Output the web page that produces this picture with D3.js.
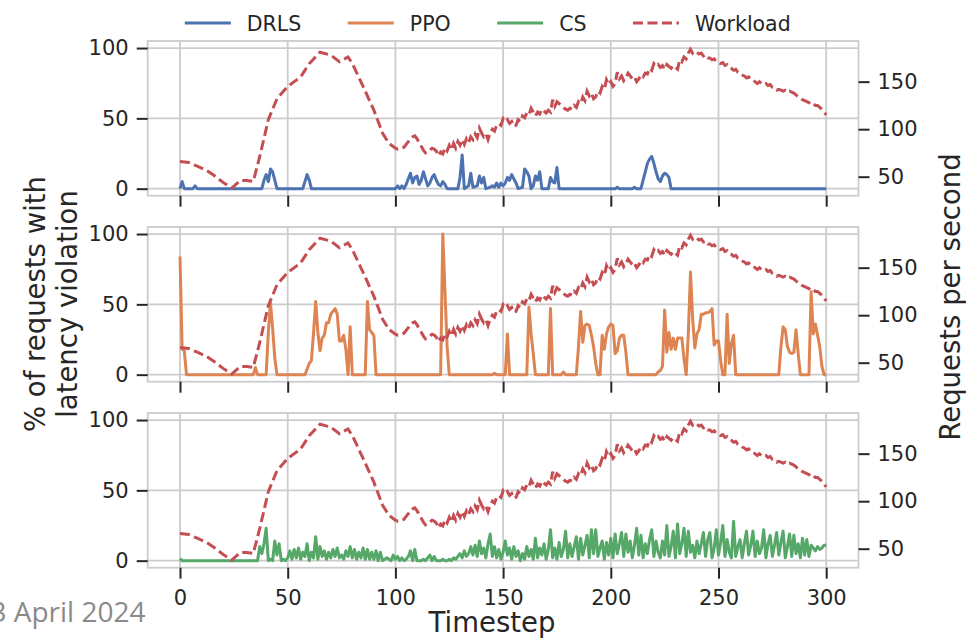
<!DOCTYPE html>
<html>
<head>
<meta charset="utf-8">
<script src="https://cdn.jsdelivr.net/npm/d3@7"></script>
<style>
body { margin: 0; background: #fff; }
text { font-family: "DejaVu Sans", sans-serif; fill: #262626; }
</style>
</head>
<body>
<div id="myGraph"></div>
<script>
// tick values
var timeTicks = [0, 50, 100, 150, 200, 250, 300];
var pctTicks = [0, 50, 100];
var rpsTicks = [50, 100, 150];
var legendNames = ["DRLS", "PPO", "CS", "Workload"];

// workload (requests per second) : breakpoints up to t=97, then one value per timestep from t=100
var workloadEarly = [[0,66],[4,65],[8,61],[12,57],[16,51],[20,44],[24,38],[28,46],[31,46],[34,45],[37,71],[41,110],[45,132],[50,145],[56,155],[60,169],[65,181],[70,178],[74,171],[78,176],[80,169],[85,145],[90,120],[94,96],[97,85]];
var workloadLate = [
  80,79,79,80,81,84,87,90,92,93,
  90,86,82,78,75,76,78,80,79,77,
  72,76,74,80,77,83,78,85,80,87,
  83,89,84,90,86,92,89,95,91,101,
  96,92,95,89,96,100,98,104,106,104,
  111,108,110,106,108,103,104,110,108,114,
  112,117,115,122,118,114,118,116,121,119,
  117,120,118,131,124,129,127,125,123,121,
  120,122,121,125,123,129,127,134,130,140,
  135,138,132,134,140,138,145,142,152,147,
  150,145,148,160,153,156,151,154,159,156,
  153,155,150,153,157,155,159,158,164,162,
  169,166,168,165,167,163,168,166,164,167,
  165,163,173,171,176,174,180,184,180,182,
  181,179,180,177,178,175,175,173,174,171,
  170,169,170,167,168,165,164,162,163,160,
  159,157,156,154,155,152,151,150,148,150,
  148,147,148,146,147,144,143,141,142,141,
  140,141,139,140,139,138,136,134,133,131,
  130,129,128,126,127,125,125,123,121,118,
  115];

// % of requests with latency violation
var drls = [[0,0],[1,5],[2,0],[6,0],[7,2],[8,0],[38,0],[39,6],[40,10],[41,5],[42,14],[43,12],[44,6],[45,0],
  [57,0],[58,5],[59,10],[60,6],[61,0],[100,0],[101,2],[102,0],[103,2],[104,0],[105,3],[106,7],[107,11],[108,4],
  [109,8],[110,9],[111,3],[112,6],[113,12],[114,7],[115,2],[116,4],[117,8],[118,10],[119,6],[120,3],[121,2],
  [122,5],[123,3],[124,0],[129,0],[130,8],[131,24],[132,0],[134,2],[135,11],[136,1],[138,2],[139,9],[140,4],
  [141,8],[142,0],[144,1],[145,2],[146,1],[147,4],[148,1],[149,4],[150,2],[151,4],[152,8],[153,6],[154,10],
  [155,7],[156,4],[157,0],[159,1],[160,14],[161,12],[162,9],[163,0],[164,2],[165,9],[166,6],[167,12],[168,0],
  [171,0],[172,8],[173,5],[174,4],[175,15],[176,0],[202,0],[203,1],[204,0],[210,0],[211,1],[212,0],[214,0],
  [215,6],[216,12],[217,18],[218,21],[219,23],[220,18],[221,12],[222,7],[223,5],[224,9],[225,11],[226,10],
  [227,8],[228,0],[300,0]];

var ppo = [[0,84],[1,18],[2,17],[3,0],[34,0],[35,5],[36,0],[40,0],[41,30],[42,51],[43,33],[44,12],[45,0],
  [58,0],[60,8],[61,10],[62,30],[63,52],[64,30],[65,17],[66,26],[67,28],[68,37],[69,37],[70,43],[71,45],
  [72,47],[73,43],[74,24],[75,24],[76,28],[77,18],[78,0],[79,34],[80,0],[86,0],[87,52],[88,32],[89,30],
  [90,28],[91,0],[121,0],[122,100],[123,60],[124,20],[125,0],[145,0],[146,1],[147,0],[151,0],[152,29],
  [153,0],[161,0],[162,48],[163,29],[164,15],[165,0],[171,0],[172,47],[173,0],[177,0],[178,2],[179,0],
  [184,0],[185,20],[186,45],[187,23],[188,35],[189,36],[190,35],[191,28],[192,20],[193,8],[194,0],
  [195,0],[196,28],[197,18],[198,29],[199,34],[200,36],[201,35],[202,15],[203,17],[204,26],[205,28],
  [206,28],[207,16],[208,0],[221,0],[222,2],[223,3],[224,6],[225,46],[226,16],[227,30],[228,18],[229,26],
  [230,18],[231,26],[232,26],[233,26],[234,11],[235,0],[236,30],[237,73],[238,40],[239,19],[240,29],
  [241,32],[242,43],[243,43],[244,44],[245,44],[246,45],[247,47],[248,21],[249,24],[250,24],[251,10],
  [252,0],[253,0],[254,43],[255,8],[256,22],[257,28],[258,0],[278,0],[279,20],[280,34],[281,32],[282,20],
  [283,16],[284,15],[285,16],[286,32],[287,15],[288,0],[292,0],[293,59],[294,29],[295,36],[296,28],
  [297,20],[298,6],[299,0],[300,0]];

// CS : breakpoints up to t=36, then one value per timestep from t=37
var csEarly = [[0,1.5],[1,0],[36,0]];
var csLate = [
  10,5,12,23,0,1,0,14,4,12,
  0,1,0,2,7,1,8,2,9,1,
  6,3,12,0,6,2,17,1,10,3,
  7,1,6,2,8,3,9,2,4,1,
  7,3,10,2,8,1,6,2,9,1,
  8,1,6,1,7,0,6,0,1,2,
  1,0,4,1,3,0,2,0,1,3,
  7,0,8,0,0,0,1,0,2,4,
  0,3,0,0,0,1,0,0,1,0,
  2,1,3,5,2,7,3,5,10,4,
  11,3,14,5,9,2,12,19,3,10,
  2,8,1,6,14,4,9,1,10,3,
  7,0,5,1,10,3,8,1,16,2,
  9,4,12,1,8,22,2,9,1,13,
  3,8,21,2,12,3,10,17,1,16,
  4,11,18,2,22,5,22,3,9,14,
  1,13,4,16,2,19,5,12,20,3,
  19,6,14,2,11,23,4,18,2,12,
  5,15,22,3,14,6,2,14,4,25,
  3,10,21,2,26,5,12,23,3,21,
  6,11,2,14,5,12,20,3,15,20,
  2,9,22,4,13,25,3,15,6,2,
  28,3,10,15,2,12,21,4,11,21,
  3,14,5,9,22,2,12,18,3,11,
  20,4,13,21,2,10,19,3,18,5,
  12,2,16,4,15,3,11,9,7,10,
  8,9,11,11];

var workload = workloadEarly.concat(workloadLate.map(function(v, i){ return [100 + i, v]; }));
var cs = csEarly.concat(csLate.map(function(v, i){ return [37 + i, v]; }));

var colors = { DRLS: "#4C72B0", PPO: "#DD8452", CS: "#55A868", Workload: "#C44E52" };
var panels = [
  { name: "DRLS", data: drls },
  { name: "PPO", data: ppo },
  { name: "CS", data: cs }
];

// layout
var width = 966, height = 638;
var plotLeft = 147.7, plotRight = 858.5, plotHeight = 154.7;
var panelTops = [41, 227, 413];

var svg = d3.select("#myGraph").append("svg")
    .attr("width", width)
    .attr("height", height);

var x = d3.scaleLinear().domain([-15, 315]).range([plotLeft, plotRight]);
var yPct = d3.scaleLinear().domain([-5, 105]).range([plotHeight, 0]);
var yRps = d3.scaleLinear().domain([30, 192.8]).range([plotHeight, 0]);

var pctLine = d3.line().x(function(d){ return x(d[0]); }).y(function(d){ return yPct(d[1]); });
var rpsLine = d3.line().x(function(d){ return x(d[0]); }).y(function(d){ return yRps(d[1]); });

function styleAxis(sel){
  sel.select(".domain").remove();
  sel.selectAll(".tick line").attr("stroke", "#262626").attr("stroke-width", 2);
  sel.selectAll(".tick text").style("font-size", "21px").attr("fill", "#262626");
}

panels.forEach(function(p, i){
  var g = svg.append("g").attr("transform", "translate(0," + panelTops[i] + ")");

  g.append("clipPath").attr("id", "clip" + i)
    .append("rect").attr("x", plotLeft).attr("y", 0)
    .attr("width", plotRight - plotLeft).attr("height", plotHeight);

  // grid
  g.selectAll(".vgrid").data(timeTicks).enter().append("line")
    .attr("x1", function(d){ return x(d); }).attr("x2", function(d){ return x(d); })
    .attr("y1", 0).attr("y2", plotHeight)
    .attr("stroke", "#cccccc").attr("stroke-width", 1.8);
  g.selectAll(".hgrid").data(pctTicks).enter().append("line")
    .attr("x1", plotLeft).attr("x2", plotRight)
    .attr("y1", function(d){ return yPct(d); }).attr("y2", function(d){ return yPct(d); })
    .attr("stroke", "#cccccc").attr("stroke-width", 1.8);

  var plot = g.append("g").attr("clip-path", "url(#clip" + i + ")");
  plot.append("path").datum(p.data)
    .attr("d", pctLine)
    .attr("fill", "none")
    .attr("stroke", colors[p.name])
    .attr("stroke-width", 3)
    .attr("stroke-linejoin", "round");
  plot.append("path").datum(workload)
    .attr("d", rpsLine)
    .attr("fill", "none")
    .attr("stroke", colors.Workload)
    .attr("stroke-width", 3)
    .attr("stroke-dasharray", "10,4.5");

  // frame
  g.append("rect").attr("x", plotLeft).attr("y", 0)
    .attr("width", plotRight - plotLeft).attr("height", plotHeight)
    .attr("fill", "none").attr("stroke", "#cccccc").attr("stroke-width", 1.8);

  g.append("g").attr("transform", "translate(" + plotLeft + ",0)")
    .call(d3.axisLeft(yPct).tickValues(pctTicks).tickSize(11).tickPadding(8))
    .call(styleAxis);
  g.append("g").attr("transform", "translate(" + plotRight + ",0)")
    .call(d3.axisRight(yRps).tickValues(rpsTicks).tickSize(11).tickPadding(8))
    .call(styleAxis);
  var xAxis = d3.axisBottom(x).tickValues(timeTicks).tickSize(11).tickPadding(11);
  if (i < panels.length - 1) xAxis.tickFormat("");
  g.append("g").attr("transform", "translate(0," + plotHeight + ")")
    .call(xAxis)
    .call(styleAxis);
});

// axis titles
svg.append("text")
  .attr("transform", "translate(45,304) rotate(-90)")
  .attr("text-anchor", "middle")
  .style("font-size", "27.5px")
  .text("% of requests with");
svg.append("text")
  .attr("transform", "translate(77,304) rotate(-90)")
  .attr("text-anchor", "middle")
  .style("font-size", "27.5px")
  .text("latency violation");
svg.append("text")
  .attr("transform", "translate(960,297) rotate(-90)")
  .attr("text-anchor", "middle")
  .style("font-size", "27.5px")
  .text("Requests per second");
svg.append("text")
  .attr("x", 492).attr("y", 632)
  .attr("text-anchor", "middle")
  .style("font-size", "27.5px")
  .text("Timestep");

// legend
var lx = 184.8;
legendNames.forEach(function(name){
  var item = svg.append("g");
  item.append("line")
    .attr("x1", lx).attr("x2", lx + 46)
    .attr("y1", 23).attr("y2", 23)
    .attr("stroke", colors[name])
    .attr("stroke-width", 3)
    .attr("stroke-dasharray", name == "Workload" ? "10,4.5" : null);
  var t = item.append("text")
    .attr("x", lx + 62).attr("y", 30.5)
    .style("font-size", "20.5px")
    .text(name);
  lx = lx + 62 + t.node().getComputedTextLength() + 46.5;
});

// slide footer
svg.append("text")
  .attr("x", 145.5).attr("y", 621.5)
  .attr("text-anchor", "end")
  .style("font-family", "'Open Sans', sans-serif")
  .style("font-size", "28px")
  .style("fill", "#8a8a8a")
  .text("3 April 2024");
</script>
</body>
</html>
